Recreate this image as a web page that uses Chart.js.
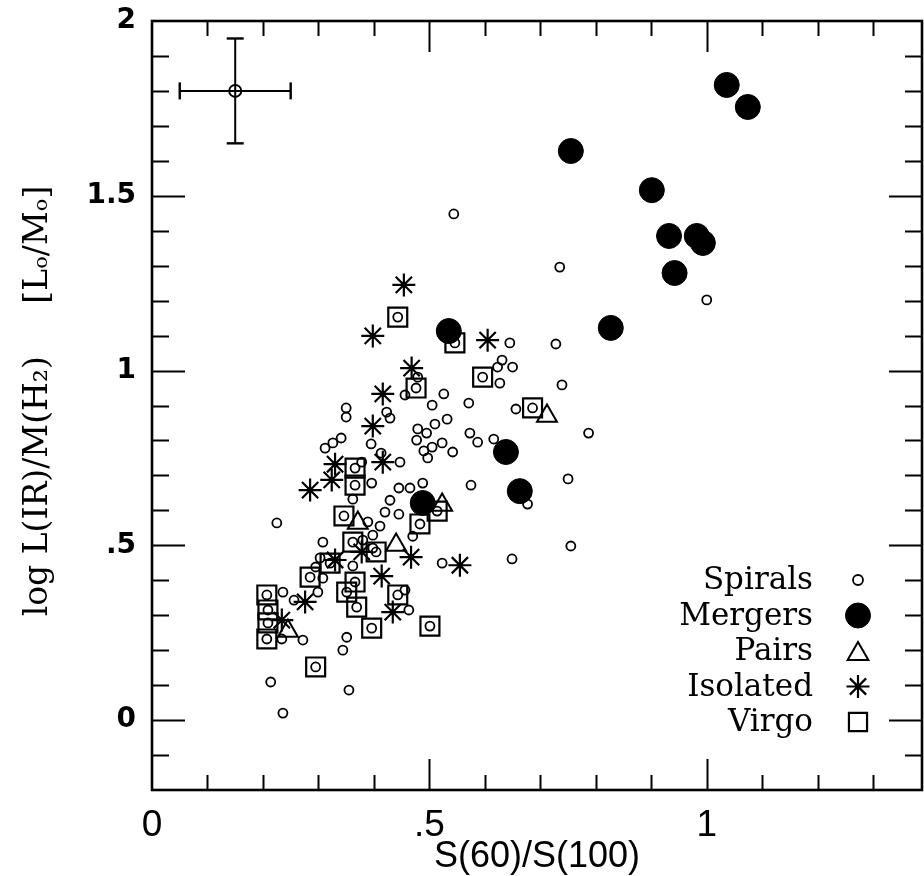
<!DOCTYPE html>
<html>
<head>
<meta charset="utf-8">
<script src="https://cdn.jsdelivr.net/npm/chart.js@4.4.0/dist/chart.umd.min.js"></script>
<style>
  html, body { margin: 0; padding: 0; background: #fff; }
  #wrap { width: 924px; height: 876px; }
</style>
</head>
<body>
<div id="wrap"><canvas id="grafico" width="924" height="876"></canvas></div>
<script>
// valores: [S(60)/S(100), log L(IR)/M(H2)]
var spirals = [
  [0.544, 1.448], [0.735, 1.296], [1.000, 1.202], [0.645, 1.079], [0.728, 1.076],
  [0.631, 1.030], [0.623, 1.010], [0.650, 1.010], [0.627, 0.964], [0.739, 0.959],
  [0.787, 0.821], [0.656, 0.890], [0.571, 0.907], [0.526, 0.933], [0.456, 0.930],
  [0.505, 0.901], [0.479, 0.981], [0.350, 0.893], [0.350, 0.867], [0.423, 0.881],
  [0.429, 0.864], [0.532, 0.861], [0.510, 0.847], [0.479, 0.833], [0.495, 0.821],
  [0.477, 0.801], [0.573, 0.821], [0.587, 0.795], [0.616, 0.804], [0.523, 0.793],
  [0.505, 0.781], [0.490, 0.770], [0.542, 0.767], [0.497, 0.750], [0.341, 0.807],
  [0.326, 0.793], [0.312, 0.778], [0.395, 0.790], [0.413, 0.764], [0.447, 0.738],
  [0.378, 0.738], [0.488, 0.678], [0.465, 0.664], [0.445, 0.664], [0.396, 0.678],
  [0.575, 0.672], [0.750, 0.690], [0.429, 0.629], [0.677, 0.618], [0.755, 0.498],
  [0.649, 0.461], [0.523, 0.449], [0.362, 0.632], [0.420, 0.595], [0.445, 0.589],
  [0.389, 0.567], [0.411, 0.555], [0.398, 0.529], [0.308, 0.509], [0.380, 0.515],
  [0.398, 0.492], [0.303, 0.464], [0.295, 0.438], [0.362, 0.441], [0.470, 0.526],
  [0.308, 0.406], [0.299, 0.366], [0.256, 0.343], [0.236, 0.366], [0.456, 0.372],
  [0.463, 0.315], [0.234, 0.232], [0.272, 0.229], [0.351, 0.237], [0.344, 0.200],
  [0.214, 0.109], [0.236, 0.020], [0.355, 0.086], [0.225, 0.564]
];
var mergers = [
  [1.036, 1.817], [1.074, 1.754], [0.755, 1.628], [0.901, 1.516], [0.932, 1.385],
  [0.982, 1.385], [0.993, 1.365], [0.942, 1.279], [0.827, 1.122], [0.535, 1.113],
  [0.638, 0.767], [0.663, 0.655], [0.488, 0.621]
];
var pairs = [
  [0.712, 0.870], [0.523, 0.615], [0.440, 0.501], [0.371, 0.564], [0.245, 0.255]
];
var isolated = [
  [0.454, 1.245], [0.398, 1.099], [0.605, 1.087], [0.468, 1.007], [0.416, 0.933],
  [0.398, 0.841], [0.416, 0.738], [0.330, 0.732], [0.324, 0.687], [0.285, 0.658],
  [0.378, 0.481], [0.330, 0.458], [0.467, 0.466], [0.414, 0.412], [0.555, 0.443],
  [0.276, 0.338], [0.434, 0.309], [0.234, 0.286]
];
var virgo = [
  [0.443, 1.153], [0.546, 1.079], [0.596, 0.981], [0.476, 0.950], [0.686, 0.893],
  [0.366, 0.721], [0.366, 0.672], [0.346, 0.584], [0.483, 0.561], [0.514, 0.598],
  [0.362, 0.509], [0.404, 0.481], [0.321, 0.449], [0.285, 0.409], [0.207, 0.358],
  [0.209, 0.315], [0.209, 0.278], [0.207, 0.232], [0.366, 0.395], [0.351, 0.366],
  [0.369, 0.323], [0.443, 0.358], [0.396, 0.263], [0.501, 0.269], [0.295, 0.152]
];
// barra de error tipica (arriba a la izquierda)
var errPoint = [0.15, 1.8];
var errX = 0.1;
var errY = 0.15;

var xTickVals = [0, 0.5, 1];
var xTickLabels = ['0', '.5', '1'];
var yTickVals = [0, 0.5, 1, 1.5, 2];
var yTickLabels = ['0', '.5', '1', '1.5', '2'];
var legendNames = ['Spirals', 'Mergers', 'Pairs', 'Isolated', 'Virgo'];

function pts(arr) {
  return arr.map(p => ({ x: p[0], y: p[1] }));
}

var negro = '#000';
var serif = '"DejaVu Serif", "Liberation Serif", serif';
var sans = '"Liberation Sans", Arial, sans-serif';

// estilos de cada serie, se usan tambien en la leyenda
var estilos = [
  { pointStyle: 'circle', radius: 4.5, borderWidth: 1.8, backgroundColor: 'rgba(0,0,0,0)' },
  { pointStyle: 'circle', radius: 12.5, borderWidth: 1, backgroundColor: negro },
  { pointStyle: 'triangle', radius: 11.5, borderWidth: 2, backgroundColor: 'rgba(0,0,0,0)' },
  { pointStyle: 'star', radius: 11.5, borderWidth: 2.2, backgroundColor: 'rgba(0,0,0,0)' },
  { pointStyle: 'rect', radius: 13.4, borderWidth: 2.2, backgroundColor: 'rgba(0,0,0,0)' }
];
var legendSizes = [5, 12.5, 12, 11.5, 12.8];

function serie(label, data, e) {
  return {
    label: label,
    data: pts(data),
    showLine: false,
    pointStyle: e.pointStyle,
    pointRadius: e.radius,
    pointBorderWidth: e.borderWidth,
    pointBorderColor: negro,
    pointBackgroundColor: e.backgroundColor
  };
}

// ticks hacia adentro en los cuatro lados + marco + leyenda + titulos
var marcoPlugin = {
  id: 'marco',
  afterDraw: function (chart) {
    var ctx = chart.ctx;
    var a = chart.chartArea;
    var xs = chart.scales.x, ys = chart.scales.y;
    ctx.save();
    ctx.strokeStyle = negro;
    ctx.lineWidth = 2;
    ctx.beginPath();
    for (var i = 1; i <= 13; i++) {
      var v = i / 10;
      var px = Math.round(xs.getPixelForValue(v)) + 0.5;
      var len = (i % 5 === 0) ? 31 : 15;
      ctx.moveTo(px, a.bottom); ctx.lineTo(px, a.bottom - len);
      ctx.moveTo(px, a.top); ctx.lineTo(px, a.top + len);
    }
    for (var j = -1; j <= 19; j++) {
      var vy = j / 10;
      var py = Math.round(ys.getPixelForValue(vy)) + 0.5;
      var l2 = (j % 5 === 0) ? 33 : 17;
      ctx.moveTo(a.left, py); ctx.lineTo(a.left + l2, py);
      ctx.moveTo(a.right, py); ctx.lineTo(a.right - l2, py);
    }
    ctx.stroke();
    ctx.lineWidth = 2.6;
    ctx.strokeRect(a.left, a.top, a.right - a.left, a.bottom - a.top);

    // leyenda
    ctx.fillStyle = negro;
    ctx.font = '31px ' + serif;
    ctx.textAlign = 'right';
    ctx.textBaseline = 'middle';
    for (var k = 0; k < legendNames.length; k++) {
      var yy = 580 + k * 35.5;
      ctx.fillText(legendNames[k], 813, yy + 1);
      var e = estilos[k];
      ctx.lineWidth = e.borderWidth;
      ctx.strokeStyle = negro;
      ctx.fillStyle = e.backgroundColor;
      Chart.helpers.drawPoint(ctx, { pointStyle: e.pointStyle, radius: legendSizes[k], rotation: 0, borderWidth: e.borderWidth }, 858, yy + (e.pointStyle === 'triangle' ? 3 : 0));
      ctx.fillStyle = negro;
    }

    // titulos de ejes
    ctx.textAlign = 'center';
    ctx.font = '36px ' + sans;
    ctx.fillText('S(60)/S(100)', (a.left + a.right) / 2, 857);
    ctx.translate(38, 401);
    ctx.rotate(-Math.PI / 2);
    ctx.font = '33px ' + serif;
    ctx.fillText('log L(IR)/M(H\u2082)     [L\u2092/M\u2092]', 0, 0);
    ctx.restore();
  }
};

// quitar el relleno que Chart.js deja para las etiquetas de los extremos
function sinRelleno(s) {
  s.paddingLeft = 0; s.paddingRight = 0; s.paddingTop = 0; s.paddingBottom = 0;
}

var ctx = document.getElementById('grafico').getContext('2d');

var chart = new Chart(ctx, {
  type: 'scatter',
  data: {
    datasets: [
      serie('Spirals', spirals, estilos[0]),
      serie('Virgo spirals', virgo, estilos[0]),
      serie('Mergers', mergers, estilos[1]),
      serie('Pairs', pairs, estilos[2]),
      serie('Isolated', isolated, estilos[3]),
      serie('Virgo', virgo, estilos[4]),
      {
        label: 'errx',
        data: [{ x: errPoint[0] - errX, y: errPoint[1] }, { x: errPoint[0] + errX, y: errPoint[1] }],
        showLine: true, borderColor: negro, borderWidth: 2,
        pointStyle: 'line', pointRotation: 90, pointRadius: 8.5,
        pointBorderColor: negro, pointBorderWidth: 2.4
      },
      {
        label: 'erry',
        data: [{ x: errPoint[0], y: errPoint[1] - errY }, { x: errPoint[0], y: errPoint[1] + errY }],
        showLine: true, borderColor: negro, borderWidth: 2,
        pointStyle: 'line', pointRotation: 0, pointRadius: 8.5,
        pointBorderColor: negro, pointBorderWidth: 2.4
      },
      {
        label: 'errc',
        data: [{ x: errPoint[0], y: errPoint[1] }],
        pointStyle: 'circle', pointRadius: 6, pointBorderWidth: 2,
        pointBorderColor: negro, pointBackgroundColor: 'rgba(0,0,0,0)'
      }
    ]
  },
  options: {
    responsive: false,
    animation: false,
    // sin autoPadding: si no, el radio de los puntos acorta el borde derecho
    layout: { autoPadding: false, padding: { top: 21, right: 2, left: 0, bottom: 0 } },
    plugins: {
      legend: { display: false },
      tooltip: { enabled: false }
    },
    scales: {
      x: {
        type: 'linear', min: 0, max: 1.388,
        afterFit: function (s) { s.height = 86; sinRelleno(s); },
        afterBuildTicks: function (s) { s.ticks = xTickVals.map(v => ({ value: v })); },
        grid: { display: false, drawTicks: false },
        border: { display: false },
        ticks: {
          autoSkip: false, maxRotation: 0, padding: 14, color: negro,
          font: { family: sans, size: 37 },
          callback: function (v) { return xTickLabels[xTickVals.indexOf(v)]; }
        }
      },
      y: {
        type: 'linear', min: -0.2, max: 2,
        afterFit: function (s) { s.width = 152; sinRelleno(s); },
        afterBuildTicks: function (s) { s.ticks = yTickVals.map(v => ({ value: v })); },
        grid: { display: false, drawTicks: false },
        border: { display: false },
        ticks: {
          autoSkip: false, padding: 16, color: negro,
          font: { family: '"DejaVu Sans", sans-serif', size: 28, weight: 'bold' },
          callback: function (v) { return yTickLabels[yTickVals.indexOf(v)]; }
        }
      }
    }
  },
  plugins: [marcoPlugin]
});
</script>
</body>
</html>
